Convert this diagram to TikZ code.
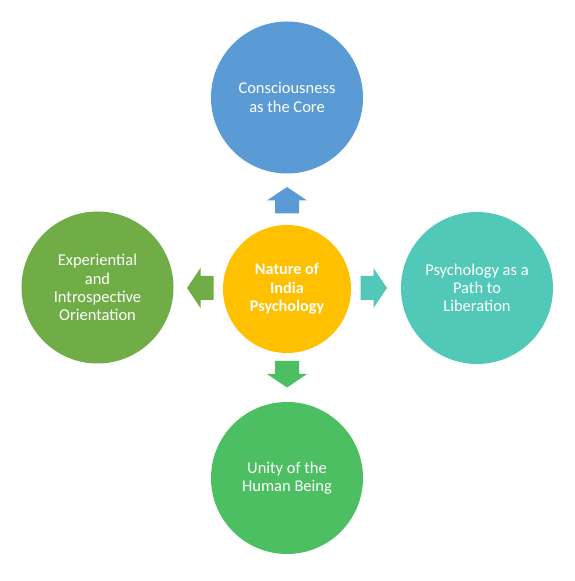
\documentclass[tikz,border=0pt]{standalone}
\usepackage{fontspec}
\setmainfont{Carlito}
\definecolor{cblue}{HTML}{5B9BD5}
\definecolor{cgold}{HTML}{FFC000}
\definecolor{cteal}{HTML}{52C9B8}
\definecolor{cleaf}{HTML}{70AD47}
\definecolor{cgreen}{HTML}{4CBF63}
\newcommand\blockarrow[4]{%
  \begin{scope}[shift={(#1,#2)},rotate=#3]
    \fill[#4] (-13,-12) -- (0,-12) -- (0,-20) -- (13.5,0) -- (0,20) -- (0,12) -- (-13,12) -- cycle;
  \end{scope}}
\begin{document}
\begin{tikzpicture}[x=1pt,y=1pt,
  bubble/.style={circle,inner sep=0pt,minimum size=152pt,text=white,align=center,
    font=\fontsize{16.5}{18.3}\selectfont},
  hub/.style={circle,inner sep=0pt,minimum size=128pt,fill=cgold,text=white,align=center,
    font=\fontsize{16.2}{18.5}\selectfont\bfseries}]
\useasboundingbox (0,0) rectangle (574,581);
\node[hub] (hub) at (287,292) {Nature of\\India\\Psychology};
\node[bubble,fill=cblue] (top) at (287,483.5) {Consciousness\\as the Core};
\node[bubble,fill=cteal] (right) at (477,293) {Psychology as a\\Path to\\Liberation};
\node[bubble,fill=cgreen] (bottom) at (287,103) {Unity of the\\Human Being};
\node[bubble,fill=cleaf] (left) at (97.5,293.5) {Experiential\\and\\Introspective\\Orientation};
\blockarrow{287}{380.5}{90}{cblue}
\blockarrow{373.5}{293}{0}{cteal}
\blockarrow{287}{207}{-90}{cgreen}
\blockarrow{200.5}{293}{180}{cleaf}
\end{tikzpicture}
\end{document}
